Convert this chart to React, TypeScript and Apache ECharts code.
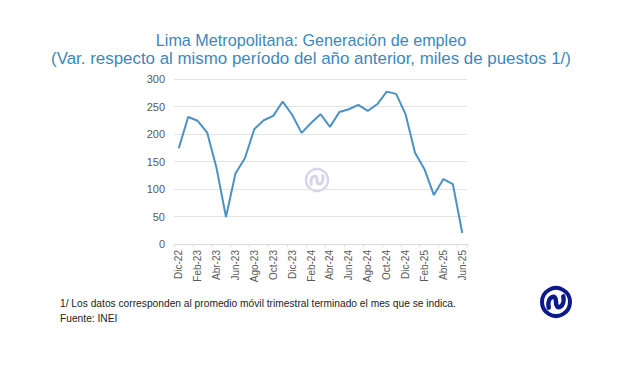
import React, { useEffect, useRef } from "react";
import * as echarts from "echarts";

const categories = [
  "Dic-22", "Ene-23", "Feb-23", "Mar-23", "Abr-23", "May-23", "Jun-23", "Jul-23", "Ago-23", "Set-23", "Oct-23", "Nov-23",
  "Dic-23", "Ene-24", "Feb-24", "Mar-24", "Abr-24", "May-24", "Jun-24", "Jul-24", "Ago-24", "Set-24", "Oct-24", "Nov-24",
  "Dic-24", "Ene-25", "Feb-25", "Mar-25", "Abr-25", "May-25", "Jun-25",
];
const empleo = [
  174, 231, 224, 203, 138, 49, 128, 156, 209, 225, 233, 259,
  235, 202, 220, 236, 213, 240, 245, 253, 242, 254, 277, 273,
  236, 166, 136, 89, 118, 109, 20,
];
const yTicks = [0, 50, 100, 150, 200, 250, 300];

const titleLines = [
  "Lima Metropolitana: Generación de empleo",
  "(Var. respecto al mismo período del año anterior, miles de puestos 1/)",
];
const footnote = "1/ Los datos corresponden al promedio móvil trimestral terminado el mes que se indica.";
const source = "Fuente: INEI";

const FONT = "Liberation Sans, Arial, Helvetica, sans-serif";

export default function App() {
  const ref = useRef<HTMLDivElement>(null);
  useEffect(() => {
    if (!ref.current) return;
    const chart = echarts.init(ref.current, undefined, { renderer: "svg" });
    const logo = (cx: number, cy: number, r: number, color: string, lw: number, sw: number) => {
      const s = (2 * r) / 100;
      const px = (u: number) => cx - r + u * s;
      const py = (v: number) => cy - r + v * s;
      const curve = (a: number[]) => ({
        type: "bezierCurve",
        shape: {
          x1: px(a[0]), y1: py(a[1]),
          cpx1: px(a[2]), cpy1: py(a[3]),
          cpx2: px(a[4]), cpy2: py(a[5]),
          x2: px(a[6]), y2: py(a[7]),
        },
        style: { fill: "none", stroke: color, lineWidth: sw, lineCap: "round" },
      });
      return {
        type: "group",
        silent: true,
        children: [
          { type: "circle", shape: { cx, cy, r }, style: { fill: "none", stroke: color, lineWidth: lw } },
          curve([24, 70, 16, 30, 52, 18, 50, 50]),
          curve([50, 50, 48, 82, 84, 70, 76, 30]),
        ],
      };
    };
    chart.setOption({
      animation: false,
      backgroundColor: "#ffffff",
      grid: { left: 174, right: 173, top: 79, bottom: 135, containLabel: false },
      xAxis: {
        type: "category",
        data: categories,
        boundaryGap: true,
        axisLine: { lineStyle: { color: "#d9d9d9" } },
        axisTick: { show: true, interval: 1, length: 3, lineStyle: { color: "#d9d9d9" } },
        axisLabel: {
          interval: 1,
          rotate: 90,
          fontSize: 10,
          color: "#595959",
          fontFamily: FONT,
          margin: 6,
        },
      },
      yAxis: {
        type: "value",
        min: yTicks[0],
        max: yTicks[yTicks.length - 1],
        interval: 50,
        axisLine: { show: false },
        axisTick: { show: false },
        splitLine: { lineStyle: { color: "#e3e3e3" } },
        axisLabel: {
          fontSize: 11,
          color: "#595959",
          fontFamily: FONT,
          margin: 9,
        },
      },
      series: [
        {
          type: "line",
          data: empleo,
          symbol: "none",
          lineStyle: { color: "#4b92c3", width: 2 },
          z: 3,
        },
      ],
      graphic: [
        logo(317, 180, 11, "#d6d6ea", 2.5, 3),
        logo(556, 302, 14, "#0b1a8a", 4, 4.5),
        {
          type: "text",
          x: 311,
          y: 40,
          style: {
            text: titleLines[0],
            fontFamily: FONT,
            fontSize: 16.2,
            fill: "#3d88b8",
            align: "center",
            verticalAlign: "middle",
          },
        },
        {
          type: "text",
          x: 311,
          y: 58,
          style: {
            text: titleLines[1],
            fontFamily: FONT,
            fontSize: 16.9,
            fill: "#3d88b8",
            align: "center",
            verticalAlign: "middle",
          },
        },
        {
          type: "text",
          x: 60,
          y: 297,
          scaleX: 0.93,
          style: {
            text: footnote,
            fontFamily: FONT,
            fontSize: 11,
            fill: "#222222",
          },
        },
        {
          type: "text",
          x: 60,
          y: 312,
          scaleX: 0.93,
          style: {
            text: source,
            fontFamily: FONT,
            fontSize: 11,
            fill: "#222222",
          },
        },
      ],
    });
    return () => chart.dispose();
  }, []);
  return (
    <div
      ref={ref}
      style={{ position: "fixed", left: 0, top: 0, width: 640, height: 379, background: "#fff" }}
    />
  );
}
